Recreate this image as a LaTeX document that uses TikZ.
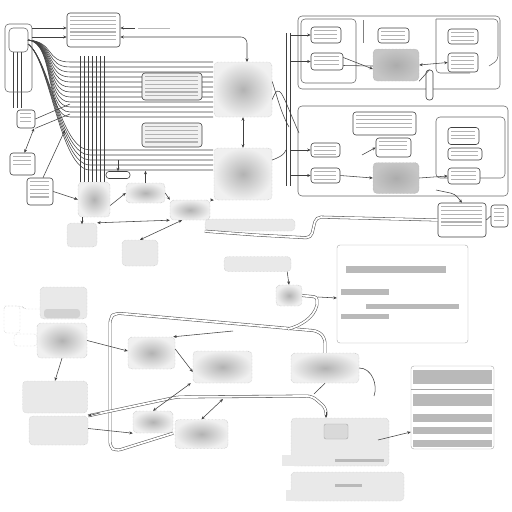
\documentclass[tikz,border=0pt]{standalone}
\usetikzlibrary{arrows.meta,backgrounds}

\tikzset{
  gbox/.style={draw=gray!70, densely dotted, rounded corners=4pt, inner sep=0pt,
    inner color=gray!60, outer color=gray!12},
  dbox/.style={gbox, inner color=gray!65, outer color=gray!45},
  lbox/.style={draw=gray!60, densely dotted, rounded corners=4pt, fill=gray!17, inner sep=0pt},
  wbox/.style={draw=black!75, line width=0.6pt, rounded corners=3pt, fill=white, inner sep=0pt},
  tbox/.style={wbox, path picture={
      \foreach \k [evaluate=\k as \dy using 3.8*\k] in {1,...,#1}
        \draw[gray!60, line width=1.1pt]
          ([shift={(3pt,-\dy pt)}]path picture bounding box.north west) --
          ([shift={(-4pt,-\dy pt)}]path picture bounding box.north east);}},
  frame/.style={draw=black!60, line width=0.55pt, rounded corners=4pt},
  wire/.style={draw=black!75, line width=0.55pt},
  pipe/.style={draw=black!65, line width=0.55pt, double=white, double distance=1.8pt, rounded corners=5pt},
  arr/.style={wire, -{Stealth[length=3.5pt,width=3pt]}},
  darr/.style={wire, {Stealth[length=3.5pt,width=3pt]}-{Stealth[length=3.5pt,width=3pt]}},
  txt/.style={gray!55, line width=2.2pt},
}

\begin{document}
\begin{tikzpicture}[x=1pt, y=-1pt]

  %% ==== top left: boxes ====
  \node[tbox=7, minimum width=53pt, minimum height=34pt] (topA) at (93.5,30) {};
  \node[tbox=3, minimum width=18pt, minimum height=18pt] (lblB) at (26,119) {};
  \node[tbox=3, minimum width=25pt, minimum height=22pt] (lblC) at (22.5,164) {};
  \node[tbox=5, minimum width=26pt, minimum height=27pt] (boxD) at (40,191.5) {};
  \node[tbox=6, minimum width=60pt, minimum height=27pt, fill=gray!12] (midE1) at (172,86.5) {};
  \node[tbox=5, minimum width=60pt, minimum height=24pt, fill=gray!12] (midE2) at (172,135) {};
  \node[gbox, minimum width=58pt, minimum height=55pt] (gA) at (243,89.5) {};
  \node[gbox, minimum width=58pt, minimum height=52pt] (gB) at (243,174) {};
  \node[gbox, minimum width=32pt, minimum height=35pt] (gC) at (94,199.5) {};
  \node[gbox, minimum width=39pt, minimum height=20pt] (gD) at (145.5,193) {};
  \node[gbox, minimum width=40pt, minimum height=20pt] (gE) at (190,210) {};
  \node[wbox, minimum width=24pt, minimum height=7pt] (tagA) at (118,175) {};
  \node[lbox, minimum width=30pt, minimum height=24pt] (blobA) at (82,235) {};
  \node[lbox, minimum width=36pt, minimum height=26pt] (blobB) at (140,253) {};
  \node[lbox, minimum width=90pt, minimum height=12pt] (pillA) at (250,225) {};
  \draw[frame] (5,24) rectangle (32,92);
  \draw[frame] (9,28) rectangle (28,52);
  \draw[txt, line width=1pt] (138,28) -- (170,28);

  %% ==== top left: wires ====
  \begin{scope}[on background layer]
    \foreach \y in {62,67,...,117}
      \draw[wire] (28,40) .. controls (55,42) and (45,\y) .. (70,\y) -- (213,\y);
    \foreach \y in {150,155,...,170}
      \draw[wire] (28,44) .. controls (50,60) and (60,\y) .. (90,\y) -- (213,\y);
    \foreach \x in {80,84,...,104}
      \draw[wire] (\x,56) -- (\x,182);
    \foreach \x in {13,17,21}
      \draw[wire] (\x,52) -- (\x,108);
    \draw[wire] (lblB.east) -- (70,104);
    \draw[wire] (lblB.south east) -- (70,114);
  \end{scope}
  \draw[arr] (32,28) -- ([yshift=2pt]topA.west);
  \draw[arr] (32,37) -- ([yshift=-7pt]topA.west);
  \draw[arr] (135,28) -- ([yshift=2pt]topA.east);
  \draw[darr, rounded corners=6pt] ([yshift=-7pt]topA.east) -- (247,37) -- (247,62);
  \draw[darr] ([xshift=8pt]lblB.south) -- ([xshift=2pt]lblC.north);
  \draw[arr] ([xshift=3pt]boxD.north) -- (65,130);
  \draw[arr] (boxD.east) -- (gC.west);
  \draw[arr] ([yshift=-6pt]gC.east) -- (gD.west);
  \draw[arr] (gD.east) -- (gE.north west);
  \draw[arr] (gE.north east) -- (gB.south west);
  \draw[arr] ([xshift=-12pt]gC.south) -- ++(0,7);
  \draw[arr] (gD.north) -- ++(0,-12);
  \draw[arr] (118,160) -- (tagA.north);
  \draw[darr] (blobA.north east) -- (gE.south west);
  \draw[darr] (blobB.north) -- ([xshift=-8pt]gE.south);
  \draw[darr] (gA.south) -- (gB.north);

  %% ==== top right: frame one ====
  \draw[frame] (298,16) rectangle (500,89);
  \draw[frame] (301,19) rectangle (356,83);
  \draw[frame] (436,19) -- (498,19) -- (498,60) -- (489,66);
  \draw[frame] (436,19) -- (436,73) -- (470,73);
  \draw[wire, gray] (363,20) -- (363,43);
  \node[tbox=3, minimum width=30pt, minimum height=16pt] (rA1) at (326,35) {};
  \node[tbox=3, minimum width=32pt, minimum height=17pt] (rA2) at (327,61.5) {};
  \node[tbox=3, minimum width=31pt, minimum height=15pt] (rA3) at (393.5,35.5) {};
  \node[dbox, minimum width=46pt, minimum height=32pt] (dA) at (396,65) {};
  \node[tbox=3, minimum width=30pt, minimum height=15pt] (rA4) at (463,36.5) {};
  \node[tbox=4, minimum width=30pt, minimum height=19pt] (rA5) at (463,62.5) {};
  \node[wbox, rounded corners=3pt, minimum width=7pt, minimum height=30pt] (hangA) at (429.5,85) {};
  \draw[arr] ([yshift=4pt]rA2.east) -- ([yshift=-4pt]dA.west);
  \draw[wire] ([yshift=-4pt]rA2.east) -- ([yshift=-1pt]dA.west);
  \draw[darr] (dA.east) -- (rA5.west);
  \draw[wire] (dA.south east) -- (hangA.north);

  %% ==== top right: frame two ====
  \draw[frame] (298,106) rectangle (508,196);
  \draw[frame] (436,117) rectangle (505,178);
  \node[tbox=4, minimum width=63pt, minimum height=23pt] (tabB) at (384.5,123.5) {};
  \node[tbox=3, minimum width=29pt, minimum height=14pt] (rB1) at (325.5,150) {};
  \node[tbox=3, minimum width=35pt, minimum height=19pt] (rB2) at (393.5,147.5) {};
  \node[tbox=3, minimum width=29pt, minimum height=15pt] (rB3) at (325.5,175.5) {};
  \node[dbox, minimum width=46pt, minimum height=31pt] (dB) at (396,178) {};
  \node[tbox=3, minimum width=31pt, minimum height=17pt] (rB4) at (463.5,136) {};
  \node[tbox=2, minimum width=34pt, minimum height=12pt] (rB5) at (465,154) {};
  \node[tbox=3, minimum width=32pt, minimum height=16pt] (rB6) at (464,176) {};
  \node[tbox=6, minimum width=48pt, minimum height=34pt] (rC1) at (462,220) {};
  \node[tbox=4, minimum width=17pt, minimum height=22pt] (rC2) at (499.5,216) {};
  \draw[arr] (rB3.east) -- (dB.west);
  \draw[arr] (362,155) -- (rB2.west);
  \draw[arr] (dB.east) -- (rB6.west);
  \draw[arr, rounded corners=4pt] (436,190) -- (455,194) -- (rC1.north);
  \draw[wire] (rC1.east) -- (rC2.west);

  %% ==== bus between the frames ====
  \draw[wire] (286,33) -- (286,186);
  \draw[wire] (290,33) -- (290,186);
  \foreach \t in {rA1,rA2,rB1,rB3}
    \draw[arr] (290,0 |- \t.west) -- (\t.west);
  \draw[wire] ([yshift=-10pt]gA.east) .. controls (280,80) and (282,95) .. (299,133);
  \draw[wire] ([yshift=8pt]gA.east) .. controls (278,100) and (282,115) .. (289,127);
  \draw[wire] ([yshift=14pt]gB.east) .. controls (280,157) and (284,155) .. (286,150);
  \draw[pipe] (rC1.west) -- (316,217) -- (311,238) -- (256,235) -- (pillA.south west);

  %% ==== middle ====
  \node[draw=gray!70, rounded corners=3pt, fill=white, minimum width=131pt, minimum height=98pt] (txtBox) at (402.5,294) {};
  \draw[txt, line width=7pt] (346,269) -- (446,269);
  \draw[txt, line width=6pt] (341,292) -- (389,292);
  \draw[txt, line width=5pt] (366,306) -- (459,306);
  \draw[txt, line width=5pt] (341,316) -- (389,316);
  \node[lbox, minimum width=67pt, minimum height=15pt] (pillB) at (257.5,264) {};
  \node[gbox, minimum width=26pt, minimum height=21pt] (gF) at (289,295.5) {};
  \draw[arr] ([xshift=-4pt]pillB.south east) .. controls (288,277) .. (gF.north);
  \draw[pipe, rounded corners=3pt] (gF.east) -- (317,297) -- (317,305);
  \draw[arr] (318,297) -- ([yshift=-4pt]txtBox.west);

  %% ==== bottom left ====
  \node[lbox, minimum width=47pt, minimum height=32pt] (gG) at (63.5,303) {};
  \fill[gray!35, rounded corners=3pt] (44,309) rectangle (80,318);
  \node[gbox, minimum width=50pt, minimum height=35pt] (gH) at (62,340.5) {};
  \node[lbox, minimum width=65pt, minimum height=32pt] (gI) at (55,397) {};
  \node[lbox, minimum width=59pt, minimum height=29pt] (gJ) at (58.5,430.5) {};
  \draw[gray!60, densely dotted, rounded corners=3pt] (4,306) -- (22,306) -- (24,309) -- (40,309);
  \draw[gray!60, densely dotted, rounded corners=3pt] (4,306) rectangle (20,333);
  \draw[gray!60, densely dotted, rounded corners=3pt] (14,334) rectangle (37,346);
  \node[gbox, minimum width=47pt, minimum height=32pt] (mA) at (151.5,353) {};
  \node[gbox, minimum width=59pt, minimum height=32pt] (mB) at (222.5,367) {};
  \node[gbox, minimum width=40pt, minimum height=22pt] (mC) at (153,422) {};
  \node[gbox, minimum width=53pt, minimum height=29pt] (mD) at (201.5,434) {};

  %% ==== bottom right ====
  \node[gbox, minimum width=68pt, minimum height=30pt] (gK) at (325,368) {};
  \node[lbox, minimum width=98pt, minimum height=48pt] (gL) at (340,442) {};
  \fill[gray!17] (282,455) rectangle (300,466);
  \node[draw=gray!70, rounded corners=2pt, fill=gray!30, minimum width=24pt, minimum height=15pt, inner sep=0pt] (gLin) at (336,431.5) {};
  \draw[txt, line width=3pt] (335,460) -- (384,460);
  \node[lbox, minimum width=113pt, minimum height=29pt] (gM) at (347.5,486.5) {};
  \fill[gray!17] (286,490) rectangle (300,501);
  \draw[txt, line width=3pt] (335,485) -- (362,485);
  \node[draw=gray!70, rounded corners=3pt, fill=white, minimum width=83pt, minimum height=83pt, inner sep=0pt] (listBox) at (452.5,407.5) {};
  \draw[txt, line width=14pt] (413,377) -- (492,377);
  \draw[gray!70] (411,389) -- (494,389);
  \draw[txt, line width=12pt] (413,400) -- (492,400);
  \draw[txt, line width=8pt] (413,418) -- (492,418);
  \draw[txt, line width=7pt] (413,430) -- (492,430);
  \draw[txt, line width=7pt] (413,443) -- (492,443);

  %% ==== loop pipes and arrows ====
  \draw[pipe] (gK.north) -- (325,338) -- (318,331) -- (115,313) -- (110,318) -- (110,447) -- (116,451) -- (mC.south east);
  \draw[pipe] (317,305) .. controls (314,318) and (300,326) .. (288,329);
  \draw[pipe] (gJ.north east) -- (177,397) -- (312,396) -- (326,408) -- (326,414);
  \draw[arr] (326,412) -- (326,418);
  \draw[arr] (gJ.north east) ++(12,-3) -- (gJ.north east);
  \draw[arr] (233,331) -- ([xshift=-2pt]mA.north east);
  \draw[arr] (gH.east) -- ([yshift=2pt]mA.west);
  \draw[arr] ([yshift=4pt]mA.east) -- ([yshift=-5pt]mB.west);
  \draw[darr] (mC.north) -- ([xshift=-2pt]mB.south west);
  \draw[darr] (mD.north) -- (223,399);
  \draw[arr] ([yshift=2pt]gJ.east) -- (mC.south west);
  \draw[arr] (gH.south) -- (gI.north);
  \draw[wire] (gK.east) .. controls (372,368) and (378,385) .. (374,396);
  \draw[wire] (gK.south) -- (314,394);
  \draw[arr] (378,440) -- (listBox.west |- 0,432);

  \pgfresetboundingbox
  \path[use as bounding box] (0,0) rectangle (512,512);
\end{tikzpicture}
\end{document}
